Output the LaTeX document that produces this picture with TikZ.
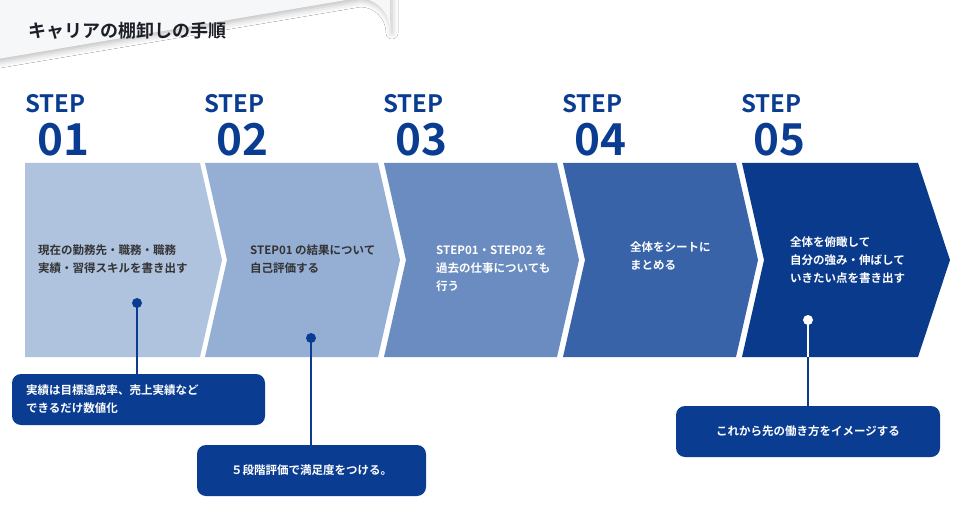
\documentclass[tikz,border=0pt]{standalone}
\usepackage{fontspec}
\setmainfont{Noto Sans CJK JP}[BoldFont={* Bold}]
\usetikzlibrary{shadows.blur}
\definecolor{navy}{HTML}{0A3D91}
\definecolor{cA}{HTML}{AFC3DF}
\definecolor{cB}{HTML}{94AED4}
\definecolor{cC}{HTML}{6A8CC0}
\definecolor{cD}{HTML}{3863A8}
\definecolor{cE}{HTML}{0A3A8C}
\definecolor{txtd}{HTML}{333333}
\begin{document}
\begin{tikzpicture}[x=1pt,y=-1pt,
  steplbl/.style={text=navy,font=\bfseries\fontsize{24}{24}\selectfont,anchor=west,inner sep=0},
  numlbl/.style={text=navy,font=\bfseries\fontsize{44}{44}\selectfont,anchor=west,inner sep=0},
  chtext/.style={font=\bfseries\fontsize{11.5}{18}\selectfont,anchor=west,align=left,inner sep=0},
  note/.style={fill=navy,rounded corners=9pt,text=white,font=\bfseries\fontsize{11.5}{18}\selectfont,align=left},
  lnk/.style={navy,line width=1.6pt}]
\useasboundingbox (0,0) rectangle (960,526);
% title
\fill[fill=white] (0,0) rectangle (960,526);
\fill[fill={rgb,255:red,246;green,247;blue,249},blur shadow={shadow xshift=2pt,shadow yshift=-3pt,shadow blur radius=6pt,shadow opacity=25}]
  (-20,-20) -- (355,-20) arc[start angle=90,end angle=0,radius=0pt] -- (390,-20) -- (390,30) arc[start angle=0,end angle=90,radius=32pt] -- (-20,62) -- cycle;
\node[anchor=west,inner sep=0,text={rgb,255:red,28;green,30;blue,40},font=\bfseries\fontsize{18}{18}\selectfont] (title) at (28,31) {キャリアの棚卸しの手順};
% chevrons
\fill[cA] (25,163) -- (200,163) -- (222,260) -- (200,357) -- (25,357) -- cycle;
\fill[cB] (205,163) -- (378,163) -- (400,260) -- (378,357) -- (205,357) -- (227,260) -- cycle;
\fill[cC] (384,163) -- (557,163) -- (579,260) -- (557,357) -- (384,357) -- (406,260) -- cycle;
\fill[cD] (563,163) -- (736,163) -- (758,260) -- (736,357) -- (563,357) -- (585,260) -- cycle;
\fill[cE] (742,163) -- (918,163) -- (950,260) -- (918,357) -- (742,357) -- (764,260) -- cycle;
% step labels
\foreach \x/\n in {25/01,204/02,383/03,562/04,741/05}{
  \node[steplbl] (s\n) at (\x,104) {STEP};
  \node[numlbl] (n\n) at (\x+12,140) {\n};
}
% texts
\node[chtext,text=txtd] (t1) at (38,259) {現在の勤務先・職務・職務\\実績・習得スキルを書き出す};
\node[chtext,text=txtd] (t2) at (250,259) {STEP01 の結果について\\自己評価する};
\node[chtext,text=white] (t3) at (436,268) {STEP01・STEP02 を\\過去の仕事についても\\行う};
\node[chtext,text=white] (t4) at (630,256) {全体をシートに\\まとめる};
\node[chtext,text=white] (t5) at (790,260) {全体を俯瞰して\\自分の強み・伸ばして\\いきたい点を書き出す};
% notes
\node[note,minimum width=253pt,minimum height=51pt,text width=225pt] (b1) at (138.5,399.5) {実績は目標達成率、売上実績など\\できるだけ数値化};
\node[note,minimum width=229pt,minimum height=51pt,align=center] (b2) at (311.5,470.5) {５段階評価で満足度をつける。};
\node[note,minimum width=264pt,minimum height=51pt,align=center] (b3) at (808,431.5) {これから先の働き方をイメージする};
% dots and links
\coordinate (d1) at (137,303);
\coordinate (d2) at (311,338);
\coordinate (d5) at (808,320);
\draw[lnk] (d1) -- (d1 |- b1.north);
\draw[lnk] (d2) -- (d2 |- b2.north);
\draw[white,line width=1.6pt] (d5) -- (d5 |- 0,357);
\draw[lnk] (d5 |- 0,357) -- (d5 |- b3.north);
\fill[navy] (d1) circle (5pt);
\fill[navy] (d2) circle (5pt);
\fill[white] (d5) circle (5pt);
\end{tikzpicture}
\end{document}
